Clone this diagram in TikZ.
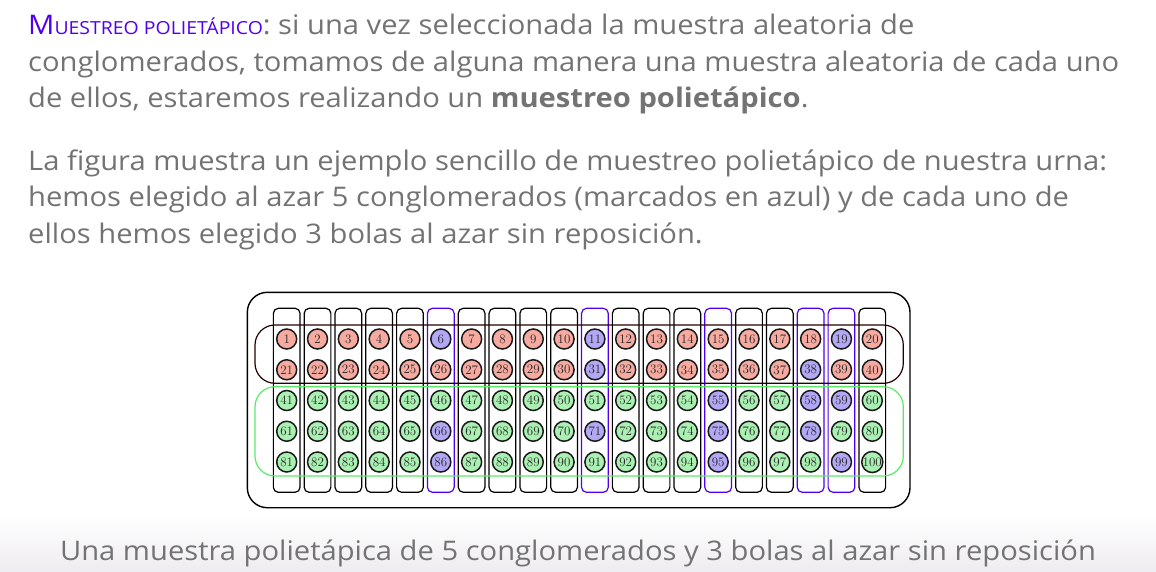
\documentclass[tikz,border=0pt]{standalone}
\usepackage{fontspec}
\setsansfont{Open Sans}[FakeStretch=1.08]
\definecolor{txt}{RGB}{115,115,115}
\definecolor{ttl}{RGB}{80,0,240}
\definecolor{redb}{RGB}{247,170,160}
\definecolor{greenb}{RGB}{170,240,178}
\definecolor{blueb}{RGB}{178,168,245}
\definecolor{grline}{RGB}{90,235,100}
\definecolor{blline}{RGB}{80,0,240}
\definecolor{bandbot}{RGB}{238,236,240}
\begin{document}
\begin{tikzpicture}[x=1pt,y=-1pt,
  txtline/.style={anchor=base west,inner sep=0pt,text=txt,font=\sffamily\fontsize{27}{27}\selectfont},
  caption/.style={anchor=base,inner sep=0pt,text=txt,font=\sffamily\fontsize{27}{27}\selectfont},
  ball/.style={circle,draw=black!90,line width=1.5pt,minimum size=20pt,inner sep=0pt,
    font=\rmfamily\fontsize{13}{13}\selectfont,text=black!85},
  colbox/.style={rectangle,rounded corners=5pt,line width=1.2pt,minimum width=26.7pt,minimum height=184pt,inner sep=0pt},
  rowbox/.style={rectangle,rounded corners=20pt,line width=1.2pt,minimum width=648.3pt,inner sep=0pt},
  outerbox/.style={rectangle,rounded corners=20pt,draw=black,line width=1.4pt,minimum width=662.7pt,minimum height=215.4pt,inner sep=0pt}]
\useasboundingbox (0,0) rectangle (1156,571);
\shade[top color=white,bottom color=bandbot] (0,515) rectangle (1156,571);
% text
\node[txtline] (l1) at (28,34.5) {{\color{ttl}{\fontsize{27}{27}\selectfont M}{\fontsize{18}{18}\selectfont UESTREO POLIETÁPICO}}: si una vez seleccionada la muestra aleatoria de};
\node[txtline] (l2) at (28,71.2) {conglomerados, tomamos de alguna manera una muestra aleatoria de cada uno};
\node[txtline] (l3) at (28,107) {de ellos, estaremos realizando un \textbf{muestreo polietápico}.};
\node[txtline] (l4) at (28,170.5) {La figura muestra un ejemplo sencillo de muestreo polietápico de nuestra urna:};
\node[txtline] (l5) at (28,206.8) {hemos elegido al azar 5 conglomerados (marcados en azul) y de cada uno de};
\node[txtline] (l6) at (28,243) {ellos hemos elegido 3 bolas al azar sin reposición.};
\node[caption] (cap) at (578,560) {Una muestra polietápica de 5 conglomerados y 3 bolas al azar sin reposición};
% figure
\node[outerbox] (outer) at (578.65,400) {};
\foreach \c in {6,11,15,18,19} {\expandafter\gdef\csname isbluecol\c\endcsname{}}
\foreach \n in {6,66,86,11,31,71,55,75,95,38,58,78,19,59,99} {\expandafter\gdef\csname isblue\n\endcsname{}}
\foreach \i in {1,...,20} {
  \pgfmathsetmacro\cx{286.7+(\i-1)*30.82}
  \edef\cc{\ifcsname isbluecol\i\endcsname blline\else black\fi}
  \node[colbox,draw=\cc] (c\i) at (\cx,400.3) {};
}
\node[rowbox,draw=black!85!red,minimum height=58.3pt] (rA) at (579.15,354.15) {};
\node[rowbox,draw=grline,minimum height=89.3pt] (rB) at (579.15,431.35) {};
\foreach \j in {1,...,5} {
  \foreach \i in {1,...,20} {
    \pgfmathtruncatemacro\n{(\j-1)*20+\i}
    \pgfmathsetmacro\cx{286.7+(\i-1)*30.82}
    \pgfmathsetmacro\cy{339+(\j-1)*30.75}
    \edef\base{\ifnum\j<3 redb\else greenb\fi}
    \edef\fc{\ifcsname isblue\n\endcsname blueb\else\base\fi}
    \node[ball,fill=\fc] (b\n) at (\cx,\cy) {\n};
  }
}
\end{tikzpicture}
\end{document}
